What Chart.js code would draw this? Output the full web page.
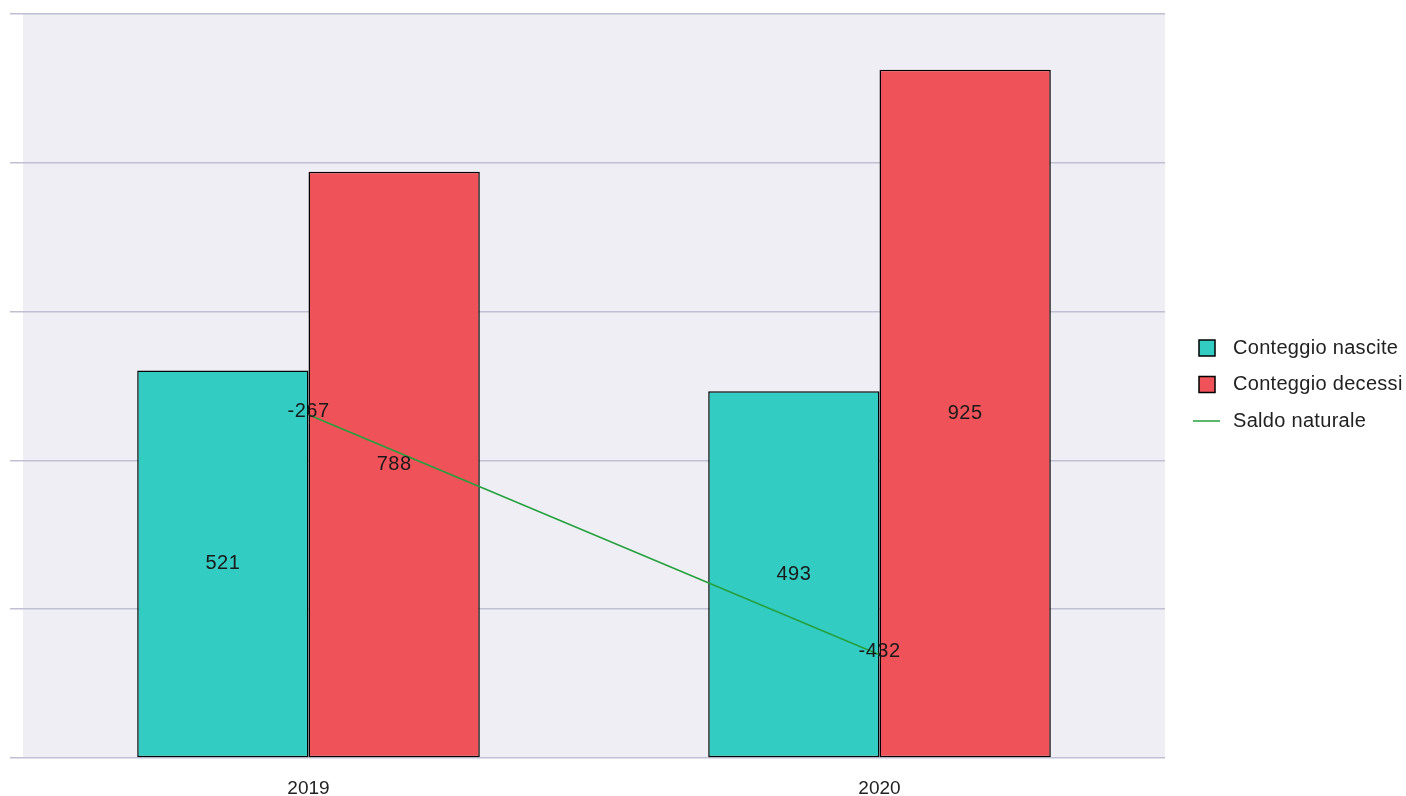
<!DOCTYPE html>
<html>
<head>
<meta charset="utf-8">
<script src="https://cdn.jsdelivr.net/npm/chart.js@4/dist/chart.umd.min.js"></script>
<style>
  html, body { margin: 0; padding: 0; background: #fff; }
  canvas { display: block; }
</style>
</head>
<body>
<canvas id="saldoChart" width="1406" height="796"></canvas>
<script>
const anni = ['2019', '2020']
const nascite = [521, 493]
const decessi = [788, 925]
const saldo = [-267, -432]

const FONT = '"Liberation Sans", Arial, sans-serif'
const colNascite = 'rgb(51, 204, 194)'
const colDecessi = 'rgb(239, 83, 89)'
const colSaldo = 'rgb(36, 160, 60)'

// sfondo dell'area del grafico
const sfondo = {
    id: 'sfondo',
    beforeDraw(chart) {
        const a = chart.chartArea
        const ctx = chart.ctx
        ctx.save()
        ctx.fillStyle = '#efeef4'
        ctx.fillRect(a.left, a.top, a.right - a.left, a.bottom - a.top)
        ctx.restore()
    }
}

// etichette con i valori
const etichette = {
    id: 'etichette',
    afterDatasetsDraw(chart) {
        const ctx = chart.ctx
        ctx.save()
        ctx.font = '20px ' + FONT
        ctx.letterSpacing = '0.5px'
        ctx.fillStyle = '#1a1a1a'
        ctx.textAlign = 'center'
        ctx.textBaseline = 'middle'
        chart.data.datasets.forEach((ds, i) => {
            const meta = chart.getDatasetMeta(i)
            meta.data.forEach((el, j) => {
                let y = el.y
                if (meta.type === 'bar') y = (el.y + el.base) / 2
                else y = el.y - 3
                ctx.fillText(String(ds.data[j]), el.x, y)
            })
        })
        ctx.restore()
    }
}

// legenda a destra
const legenda = {
    id: 'legenda',
    afterDraw(chart) {
        const ctx = chart.ctx
        ctx.save()
        ctx.font = '20px ' + FONT
        ctx.letterSpacing = '0.3px'
        ctx.textBaseline = 'middle'
        const y0 = 348, step = 36.5
        chart.data.datasets.forEach((ds, i) => {
            const y = y0 + i * step
            if (ds.type === 'line') {
                ctx.strokeStyle = ds.borderColor
                ctx.lineWidth = 1.5
                ctx.beginPath()
                ctx.moveTo(1193, y)
                ctx.lineTo(1220, y)
                ctx.stroke()
            } else {
                ctx.fillStyle = ds.backgroundColor
                ctx.fillRect(1199, y - 8, 16, 16)
                ctx.strokeStyle = '#000'
                ctx.lineWidth = 1.5
                ctx.strokeRect(1199, y - 8, 16, 16)
            }
            ctx.fillStyle = '#222'
            ctx.fillText(ds.label, 1233, y)
        })
        ctx.restore()
    }
}

const data = {
    labels: anni,
    datasets: [
        {
            label: 'Conteggio nascite',
            data: nascite,
            backgroundColor: colNascite,
            borderColor: '#000',
            borderWidth: 1.5,
            borderSkipped: false,
            order: 1
        },
        {
            label: 'Conteggio decessi',
            data: decessi,
            backgroundColor: colDecessi,
            borderColor: '#000',
            borderWidth: 1.5,
            borderSkipped: false,
            order: 1
        },
        {
            type: 'line',
            label: 'Saldo naturale',
            data: saldo,
            borderColor: colSaldo,
            backgroundColor: colSaldo,
            borderWidth: 1.5,
            pointRadius: 0,
            tension: 0,
            yAxisID: 'y1',
            order: 0
        }
    ]
}

const config = {
    type: 'bar',
    data: data,
    options: {
        responsive: false,
        animation: false,
        layout: { padding: { left: 10, top: 14, right: 241, bottom: -22.8 } },
        datasets: { bar: { categoryPercentage: 0.6, barPercentage: 1.0 } },
        plugins: {
            legend: { display: false },
            tooltip: { enabled: false }
        },
        scales: {
            x: {
                grid: { display: false, drawTicks: false },
                border: { display: false },
                ticks: { color: '#222', font: { family: FONT, size: 19 }, padding: 19 }
            },
            y: {
                min: 0,
                max: 1000,
                ticks: { display: false, stepSize: 200 },
                border: { display: false },
                grid: { color: 'rgb(192, 191, 212)', lineWidth: 1.5, tickLength: 13 }
            },
            y1: {
                display: false,
                min: -503,
                max: 8.5
            }
        }
    },
    plugins: [sfondo, etichette, legenda]
}

new Chart(document.getElementById('saldoChart').getContext('2d'), config)
</script>
</body>
</html>
